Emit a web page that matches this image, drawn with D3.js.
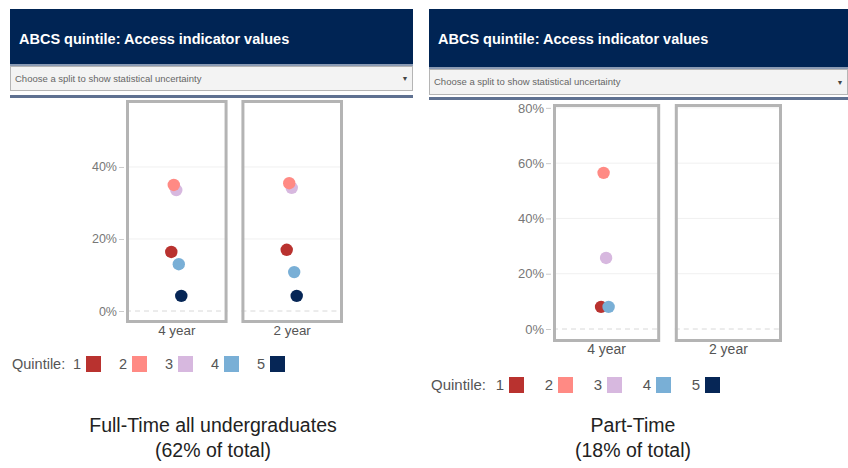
<html>
<head>
<script src="https://d3js.org/d3.v7.min.js"></script>
<title>ABCS quintile: Access indicator values</title>
<style type="text/css">
	body { margin: 0; background: #fff; }
	text { font-family: "Liberation Sans", Arial, sans-serif; }
</style>
</head>
<body>
<div id="chart"></div>
<script>
// data
var quintiles = [1, 2, 3, 4, 5];
var quintileColours = ["#b9322f", "#ff8a84", "#d7b8df", "#79afd6", "#062656"];
var splits = ["4 year", "2 year"];
var fullTime4yr = [16.4, 35.0, 33.6, 13.0, 4.2];
var fullTime2yr = [17.0, 35.5, 34.2, 10.8, 4.2];
var partTime4yr = [8.0, 56.5, 25.7, 8.0, null];
var partTime2yr = [null, null, null, null, null];
var fullTimeTicks = [0, 20, 40];
var partTimeTicks = [0, 20, 40, 60, 80];

var svg = d3.select("#chart").append("svg")
	.attr("width", 848)
	.attr("height", 468);

var colour = d3.scaleOrdinal().domain(quintiles).range(quintileColours);

function drawChart(c) {
	var g = svg.append("g");

	// header block
	g.append("rect").attr("x", c.left).attr("y", 9).attr("width", c.right - c.left).attr("height", c.headH).attr("fill", "#002454");
	g.append("text").attr("x", c.left + 9).attr("y", 44).attr("fill", "#fff")
		.attr("font-size", 14.5).attr("font-weight", "bold").text("ABCS quintile: Access indicator values");
	g.append("rect").attr("x", c.left).attr("y", 9 + c.headH).attr("width", c.right - c.left).attr("height", 2).attr("fill", "#8a9ab3");
	g.append("rect").attr("x", c.left + 0.5).attr("y", 11.5 + c.headH).attr("width", c.right - c.left - 1).attr("height", c.ddH)
		.attr("fill", "#f3f3f3").attr("stroke", "#b5b5b5");
	g.append("text").attr("x", c.left + 5).attr("y", 14.5 + c.headH + c.ddH / 2).attr("fill", "#666")
		.attr("font-size", 9.5).text("Choose a split to show statistical uncertainty");
	g.append("text").attr("x", c.right - 8).attr("y", 14 + c.headH + c.ddH / 2).attr("fill", "#444")
		.attr("font-size", 7).attr("text-anchor", "middle").text("\u25BC");
	g.append("rect").attr("x", c.left).attr("y", c.lineY).attr("width", c.right - c.left).attr("height", 3).attr("fill", "#5f7191");

	var y = d3.scaleLinear().domain([0, c.yMax]).range([c.zeroY, c.topY]);
	var x = d3.scaleBand().domain(splits).range([c.x0, c.x1]).paddingInner(0.12);
	var dodge = d3.scalePoint().domain(quintiles).range([-5.5, 4.5]);

	// y axis
	var axis = d3.axisLeft(y).tickValues(c.ticks).tickFormat(function(d) { return d + "%"; }).tickSize(5).tickPadding(2);
	var ag = g.append("g").attr("transform", "translate(" + (c.x0 - 2) + ",0)").call(axis);
	ag.select(".domain").remove();
	ag.selectAll("line").attr("stroke", "#ccc");
	ag.selectAll("text").attr("fill", "#777").attr("font-size", c.tickFs).attr("font-family", "Liberation Sans, Arial, sans-serif");

	splits.forEach(function(s, si) {
		var px = x(s), bw = x.bandwidth();
		var pg = g.append("g");
		// gridlines
		pg.selectAll(".grid").data(c.ticks.filter(function(t) { return t > 0; })).enter().append("line")
			.attr("x1", px).attr("x2", px + bw).attr("y1", function(d) { return y(d); }).attr("y2", function(d) { return y(d); })
			.attr("stroke", "#f0f0f0");
		pg.append("line").attr("x1", px).attr("x2", px + bw).attr("y1", y(0)).attr("y2", y(0))
			.attr("stroke", "#d8d8d8").attr("stroke-dasharray", "5,4");
		pg.append("rect").attr("x", px + 1.5).attr("y", c.topY + 1.5).attr("width", bw - 3).attr("height", c.boxBottom - c.topY - 3)
			.attr("fill", "none").attr("stroke", "#b4b4b4").attr("stroke-width", 3);
		pg.append("text").attr("x", px + bw / 2).attr("y", c.boxBottom + 12).attr("text-anchor", "middle")
			.attr("fill", "#555").attr("font-size", c.catFs).text(s);

		var vals = c.values[si];
		var pts = quintiles.map(function(q, i) { return { q: q, v: vals[i] }; }).filter(function(d) { return d.v != null; });
		// draw quintile 3 before 2 so pink sits on top as in the original
		var order = [3, 1, 4, 5, 2];
		pts.sort(function(a, b) { return order.indexOf(a.q) - order.indexOf(b.q); });
		pg.selectAll(".dot").data(pts).enter().append("circle")
			.attr("cx", function(d) { return px + bw / 2 + dodge(d.q); })
			.attr("cy", function(d) { return y(d.v); })
			.attr("r", 6.2)
			.attr("fill", function(d) { return colour(d.q); });
	});

	// legend
	var lg = g.append("g");
	lg.append("text").attr("x", c.legendX).attr("y", c.legendY + 13).attr("fill", "#555").attr("font-size", c.legFs).text("Quintile:");
	var items = lg.selectAll(".li").data(quintiles).enter().append("g")
		.attr("transform", function(d, i) { return "translate(" + (c.legendSq + i * c.legendStep) + "," + c.legendY + ")"; });
	items.append("rect").attr("width", 15).attr("height", 16).attr("fill", function(d) { return colour(d); });
	items.append("text").attr("x", -5).attr("y", 13).attr("text-anchor", "end").attr("fill", "#555").attr("font-size", c.legFs)
		.text(function(d) { return d; });

	// caption
	c.caption.forEach(function(t, i) {
		g.append("text").attr("x", c.captionX).attr("y", 432 + i * 25).attr("text-anchor", "middle")
			.attr("fill", "#222").attr("font-size", 19.5).text(t);
	});
}

drawChart({
	left: 10, right: 413, headH: 55, ddH: 24, lineY: 95,
	x0: 126, x1: 343, zeroY: 311, topY: 100, boxBottom: 323, yMax: 58.6,
	ticks: fullTimeTicks, values: [fullTime4yr, fullTime2yr],
	tickFs: 12.5, catFs: 13.4, legFs: 14.5,
	legendX: 12, legendY: 356, legendSq: 86, legendStep: 46,
	caption: ["Full-Time all undergraduates", "(62% of total)"], captionX: 213
});

drawChart({
	left: 429, right: 848, headH: 58, ddH: 25, lineY: 97,
	x0: 553, x1: 782, zeroY: 329, topY: 104, boxBottom: 342, yMax: 81.4,
	ticks: partTimeTicks, values: [partTime4yr, partTime2yr],
	tickFs: 13, catFs: 14, legFs: 15,
	legendX: 431, legendY: 377, legendSq: 509, legendStep: 49,
	caption: ["Part-Time", "(18% of total)"], captionX: 633
});
</script>
</body>
</html>
